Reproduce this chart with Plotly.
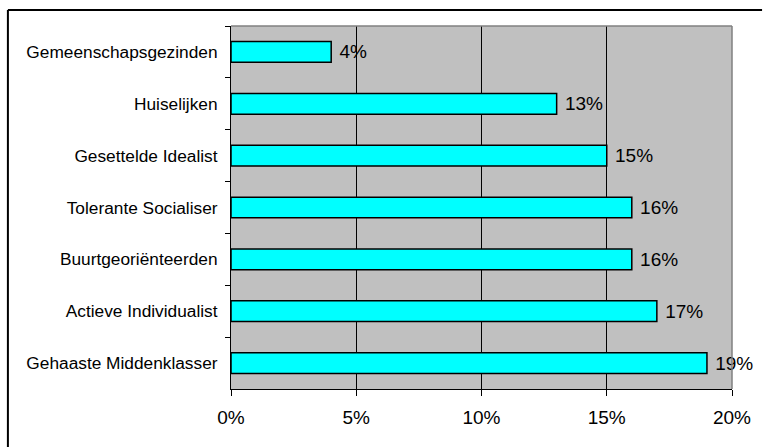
import plotly.graph_objects as go

categories = [
    "Gemeenschapsgezinden",
    "Huiselijken",
    "Gesettelde Idealist",
    "Tolerante Socialiser",
    "Buurtgeoriënteerden",
    "Actieve Individualist",
    "Gehaaste Middenklasser",
]
values = [4, 13, 15, 16, 16, 17, 19]
labels = [f" {v}%" for v in values]
x_ticks = [0, 5, 10, 15, 20]
x_tick_text = [f"{t}%" for t in x_ticks]

font_family = "Liberation Sans, Arial, sans-serif"

fig = go.Figure(
    go.Bar(
        x=values,
        y=categories,
        orientation="h",
        marker=dict(color="#00FFFF", line=dict(color="black", width=1.5)),
        text=labels,
        textposition="outside",
        textfont=dict(family=font_family, size=19, color="black"),
        constraintext="none",
        cliponaxis=False,
        width=0.4,
        hoverinfo="skip",
    )
)

fig.update_layout(
    width=763,
    height=447,
    margin=dict(l=231, r=29, t=26, b=58),
    paper_bgcolor="white",
    plot_bgcolor="#C0C0C0",
    showlegend=False,
    font=dict(family=font_family, color="black"),
    xaxis=dict(
        range=[0, 20],
        tickvals=x_ticks,
        ticktext=x_tick_text,
        showgrid=True,
        gridcolor="black",
        gridwidth=1,
        showline=True,
        linecolor="black",
        linewidth=1,
        ticks="outside",
        ticklen=6,
        tickcolor="black",
        tickfont=dict(size=19),
        ticklabelstandoff=5,
        zeroline=False,
        fixedrange=True,
    ),
    yaxis=dict(
        autorange="reversed",
        showgrid=False,
        showline=True,
        linecolor="black",
        linewidth=1,
        ticks="outside",
        tickson="boundaries",
        ticklen=5,
        tickcolor="black",
        tickfont=dict(size=17.3),
        ticklabelstandoff=9,
        zeroline=False,
        fixedrange=True,
    ),
    shapes=[
        # outer chart frame (top and left edges; the rest lies outside the view)
        dict(type="line", xref="paper", yref="paper",
             x0=-0.4453, x1=1.06, y0=1.044, y1=1.044,
             line=dict(color="black", width=2), layer="below"),
        dict(type="line", xref="paper", yref="paper",
             x0=-0.4453, x1=-0.4453, y0=-0.2, y1=1.044,
             line=dict(color="black", width=2), layer="below"),
        # plot area top & right border (gray)
        dict(type="line", xref="paper", yref="paper", x0=0, x1=1, y0=1, y1=1,
             line=dict(color="#808080", width=1.5)),
        dict(type="line", xref="paper", yref="paper", x0=1, x1=1, y0=0, y1=1,
             line=dict(color="#808080", width=1.5)),
    ],
)

fig.write_html(
    "out.html",
    config={"displayModeBar": False},
    post_script="document.body.style.margin='0';document.body.style.overflow='hidden';",
)
